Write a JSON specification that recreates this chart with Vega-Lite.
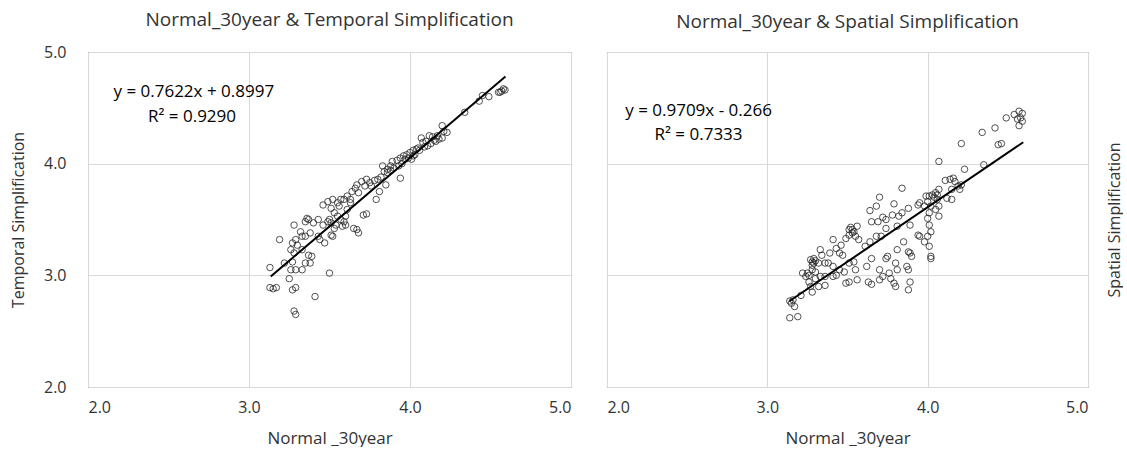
{
  "$schema": "https://vega.github.io/schema/vega-lite/v6.json",
  "background": "white",
  "padding": {"left": 10, "top": 10, "right": 0, "bottom": 0},
  "spacing": 34,
  "config": {
    "font": "Open Sans",
    "view": {"stroke": "#595959", "strokeWidth": 1},
    "axis": {"grid": true, "gridColor": "#d9d9d9", "ticks": false, "domain": false, "labelFontSize": 16, "labelColor": "#333333", "titleFontSize": 16, "titleFontWeight": "normal", "titleColor": "#333333", "format": ".1f"},
    "title": {"fontSize": 19, "fontWeight": "normal", "color": "#333333", "offset": 21, "frame": "group"}
  },
  "hconcat": [
    {
      "width": 483,
      "height": 335,
      "title": {"text": "Normal_30year & Temporal Simplification", "dy": 7},
      "layer": [
        {
          "data": {"values": [
            {"x":4.55,"y":4.64},{"x":4.57,"y":4.65},{"x":4.58,"y":4.67},{"x":4.59,"y":4.66},{"x":4.56,"y":4.64},{"x":4.49,"y":4.60},{"x":4.45,"y":4.61},{"x":4.43,"y":4.56},{"x":4.34,"y":4.46},{"x":4.20,"y":4.34},
            {"x":4.21,"y":4.29},{"x":4.23,"y":4.28},{"x":4.20,"y":4.23},{"x":4.15,"y":4.21},{"x":4.14,"y":4.24},{"x":4.12,"y":4.25},{"x":4.07,"y":4.23},{"x":4.10,"y":4.20},{"x":4.08,"y":4.19},{"x":4.00,"y":4.10},
            {"x":4.02,"y":4.12},{"x":4.03,"y":4.08},{"x":3.98,"y":4.08},{"x":4.01,"y":4.04},{"x":3.99,"y":4.05},{"x":4.04,"y":4.13},{"x":4.05,"y":4.14},{"x":4.02,"y":4.07},{"x":3.96,"y":4.07},{"x":3.94,"y":4.05},
            {"x":3.97,"y":4.04},{"x":3.94,"y":3.87},{"x":3.89,"y":4.02},{"x":3.88,"y":3.98},{"x":3.86,"y":3.95},{"x":3.83,"y":3.98},{"x":3.84,"y":3.93},{"x":3.85,"y":3.81},{"x":3.80,"y":3.86},{"x":3.79,"y":3.68},
            {"x":3.81,"y":3.75},{"x":3.75,"y":3.83},{"x":3.73,"y":3.86},{"x":3.72,"y":3.80},{"x":3.70,"y":3.84},{"x":3.67,"y":3.81},{"x":3.66,"y":3.78},{"x":3.68,"y":3.74},{"x":3.64,"y":3.75},{"x":3.63,"y":3.68},
            {"x":3.61,"y":3.71},{"x":3.59,"y":3.68},{"x":3.57,"y":3.68},{"x":3.55,"y":3.65},{"x":3.52,"y":3.68},{"x":3.49,"y":3.66},{"x":3.46,"y":3.63},{"x":3.51,"y":3.60},{"x":3.53,"y":3.56},{"x":3.55,"y":3.53},
            {"x":3.57,"y":3.50},{"x":3.59,"y":3.48},{"x":3.60,"y":3.45},{"x":3.58,"y":3.44},{"x":3.54,"y":3.45},{"x":3.51,"y":3.47},{"x":3.49,"y":3.48},{"x":3.46,"y":3.45},{"x":3.43,"y":3.50},{"x":3.40,"y":3.47},
            {"x":3.37,"y":3.50},{"x":3.36,"y":3.51},{"x":3.35,"y":3.48},{"x":3.32,"y":3.39},{"x":3.28,"y":3.45},{"x":3.33,"y":3.35},{"x":3.35,"y":3.35},{"x":3.29,"y":3.32},{"x":3.27,"y":3.29},{"x":3.26,"y":3.23},
            {"x":3.28,"y":3.20},{"x":3.30,"y":3.27},{"x":3.33,"y":3.23},{"x":3.37,"y":3.18},{"x":3.39,"y":3.17},{"x":3.38,"y":3.11},{"x":3.35,"y":3.11},{"x":3.33,"y":3.05},{"x":3.29,"y":3.05},{"x":3.27,"y":3.12},
            {"x":3.26,"y":3.05},{"x":3.25,"y":2.97},{"x":3.22,"y":3.11},{"x":3.19,"y":3.32},{"x":3.13,"y":3.07},{"x":3.13,"y":2.89},{"x":3.15,"y":2.88},{"x":3.17,"y":2.89},{"x":3.27,"y":2.87},{"x":3.29,"y":2.89},
            {"x":3.41,"y":2.81},{"x":3.50,"y":3.02},{"x":3.28,"y":2.68},{"x":3.29,"y":2.65},{"x":3.44,"y":3.32},{"x":3.47,"y":3.29},{"x":3.51,"y":3.36},{"x":3.52,"y":3.35},{"x":3.67,"y":3.41},{"x":3.68,"y":3.38},
            {"x":3.71,"y":3.54},{"x":3.73,"y":3.55},{"x":3.65,"y":3.42},{"x":3.63,"y":3.65},{"x":3.61,"y":3.59},{"x":3.60,"y":3.53},{"x":3.56,"y":3.62},{"x":3.50,"y":3.50},{"x":3.53,"y":3.42},{"x":3.43,"y":3.35},
            {"x":3.38,"y":3.38},{"x":4.06,"y":4.12},{"x":4.09,"y":4.15},{"x":4.11,"y":4.16},{"x":4.13,"y":4.18},{"x":4.16,"y":4.20},{"x":3.93,"y":3.98},{"x":3.95,"y":4.00},{"x":3.90,"y":3.96},{"x":3.92,"y":4.03},
            {"x":3.86,"y":3.92},{"x":3.88,"y":3.94},{"x":4.18,"y":4.22},{"x":4.17,"y":4.25},{"x":3.82,"y":3.88},{"x":3.78,"y":3.85},{"x":3.76,"y":3.80}
          ]},
          "mark": {"type": "point", "shape": "circle", "filled": false, "stroke": "#262626", "strokeWidth": 0.8, "size": 42, "opacity": 1},
          "encoding": {
            "x": {"field": "x", "type": "quantitative", "scale": {"domain": [2, 5], "nice": false, "zero": false}, "axis": {"values": [2, 3, 4, 5], "title": "Normal _30year", "labelPadding": 12, "titlePadding": 15, "titleFontSize": 17}},
            "y": {"field": "y", "type": "quantitative", "scale": {"domain": [2, 5], "nice": false, "zero": false}, "axis": {"values": [2, 3, 4, 5], "title": "Temporal Simplification", "labelPadding": 22, "titlePadding": 17}}
          }
        },
        {
          "data": {"values": [{"x": 3.135, "y": 2.99}, {"x": 4.593, "y": 4.78}]},
          "mark": {"type": "line", "color": "black", "strokeWidth": 2},
          "encoding": {
            "x": {"field": "x", "type": "quantitative"},
            "y": {"field": "y", "type": "quantitative"}
          }
        },
        {
          "data": {"values": [{"x": 2.657, "y": 4.64, "label": "y = 0.7622x + 0.8997"}, {"x": 2.646, "y": 4.414, "label": "R² = 0.9290"}]},
          "mark": {"type": "text", "fontSize": 17, "color": "black", "align": "center", "baseline": "middle"},
          "encoding": {
            "x": {"field": "x", "type": "quantitative"},
            "y": {"field": "y", "type": "quantitative"},
            "text": {"field": "label", "type": "nominal"}
          }
        }
      ]
    },
    {
      "width": 481,
      "height": 335,
      "title": {"text": "Normal_30year & Spatial Simplification", "dy": 1},
      "layer": [
        {
          "data": {"values": [
            {"x":4.57,"y":4.47},{"x":4.54,"y":4.44},{"x":4.59,"y":4.45},{"x":4.58,"y":4.41},{"x":4.56,"y":4.40},{"x":4.59,"y":4.38},{"x":4.57,"y":4.34},{"x":4.49,"y":4.41},{"x":4.42,"y":4.32},{"x":4.34,"y":4.28},
            {"x":4.21,"y":4.18},{"x":4.44,"y":4.17},{"x":4.46,"y":4.18},{"x":4.35,"y":3.99},{"x":4.07,"y":4.02},{"x":4.23,"y":3.95},{"x":4.16,"y":3.87},{"x":4.11,"y":3.85},{"x":4.14,"y":3.86},{"x":4.17,"y":3.84},
            {"x":4.19,"y":3.80},{"x":4.21,"y":3.81},{"x":4.15,"y":3.77},{"x":4.12,"y":3.69},{"x":4.15,"y":3.68},{"x":4.20,"y":3.77},{"x":4.07,"y":3.77},{"x":4.05,"y":3.74},{"x":4.03,"y":3.72},{"x":4.01,"y":3.71},
            {"x":3.99,"y":3.71},{"x":4.06,"y":3.68},{"x":4.07,"y":3.62},{"x":4.05,"y":3.59},{"x":4.07,"y":3.53},{"x":4.02,"y":3.62},{"x":4.01,"y":3.56},{"x":4.00,"y":3.51},{"x":4.01,"y":3.45},{"x":4.02,"y":3.39},
            {"x":4.00,"y":3.35},{"x":3.98,"y":3.30},{"x":3.95,"y":3.35},{"x":3.94,"y":3.36},{"x":4.01,"y":3.26},{"x":4.02,"y":3.17},{"x":4.02,"y":3.15},{"x":3.94,"y":3.63},{"x":3.95,"y":3.65},{"x":3.88,"y":3.60},
            {"x":3.89,"y":3.45},{"x":3.84,"y":3.78},{"x":3.79,"y":3.64},{"x":3.70,"y":3.70},{"x":3.68,"y":3.62},{"x":3.64,"y":3.58},{"x":3.65,"y":3.48},{"x":3.69,"y":3.48},{"x":3.72,"y":3.52},{"x":3.74,"y":3.50},
            {"x":3.78,"y":3.54},{"x":3.82,"y":3.53},{"x":3.84,"y":3.56},{"x":3.81,"y":3.44},{"x":3.74,"y":3.42},{"x":3.71,"y":3.35},{"x":3.68,"y":3.35},{"x":3.64,"y":3.30},{"x":3.61,"y":3.26},{"x":3.57,"y":3.32},
            {"x":3.55,"y":3.35},{"x":3.56,"y":3.44},{"x":3.53,"y":3.41},{"x":3.51,"y":3.41},{"x":3.51,"y":3.36},{"x":3.49,"y":3.33},{"x":3.46,"y":3.27},{"x":3.45,"y":3.20},{"x":3.43,"y":3.24},{"x":3.41,"y":3.32},
            {"x":3.39,"y":3.20},{"x":3.33,"y":3.23},{"x":3.34,"y":3.18},{"x":3.38,"y":3.11},{"x":3.36,"y":3.11},{"x":3.29,"y":3.11},{"x":3.28,"y":3.12},{"x":3.27,"y":3.14},{"x":3.32,"y":3.11},{"x":3.30,"y":3.03},
            {"x":3.28,"y":3.05},{"x":3.25,"y":3.02},{"x":3.22,"y":3.02},{"x":3.24,"y":2.99},{"x":3.26,"y":2.94},{"x":3.27,"y":2.90},{"x":3.28,"y":2.85},{"x":3.32,"y":2.90},{"x":3.36,"y":2.91},{"x":3.33,"y":2.99},
            {"x":3.36,"y":2.99},{"x":3.41,"y":2.99},{"x":3.43,"y":3.00},{"x":3.45,"y":3.05},{"x":3.48,"y":3.03},{"x":3.51,"y":3.11},{"x":3.54,"y":3.12},{"x":3.55,"y":3.05},{"x":3.56,"y":2.96},{"x":3.51,"y":2.94},
            {"x":3.49,"y":2.93},{"x":3.63,"y":2.94},{"x":3.65,"y":2.92},{"x":3.70,"y":2.96},{"x":3.76,"y":3.02},{"x":3.77,"y":2.97},{"x":3.79,"y":2.93},{"x":3.80,"y":2.90},{"x":3.81,"y":3.05},{"x":3.80,"y":3.11},
            {"x":3.75,"y":3.17},{"x":3.74,"y":3.15},{"x":3.81,"y":3.23},{"x":3.85,"y":3.30},{"x":3.88,"y":3.21},{"x":3.89,"y":3.20},{"x":3.90,"y":3.17},{"x":3.87,"y":3.08},{"x":3.88,"y":3.05},{"x":3.88,"y":2.87},
            {"x":3.89,"y":2.94},{"x":3.14,"y":2.77},{"x":3.15,"y":2.75},{"x":3.17,"y":2.72},{"x":3.14,"y":2.62},{"x":3.19,"y":2.63},{"x":3.21,"y":2.82},{"x":3.26,"y":3.00},{"x":3.30,"y":2.97},{"x":3.41,"y":3.08},
            {"x":3.47,"y":3.18},{"x":3.62,"y":3.08},{"x":3.65,"y":3.15},{"x":3.70,"y":3.05},{"x":3.72,"y":2.99},{"x":3.16,"y":2.78},
            {"x":3.28,"y":3.09},{"x":3.30,"y":3.13},{"x":3.29,"y":3.15},{"x":3.53,"y":3.38},{"x":3.52,"y":3.43},{"x":3.54,"y":3.39},{"x":4.04,"y":3.70},{"x":4.06,"y":3.72},{"x":4.00,"y":3.66},{"x":3.98,"y":3.62}
          ]},
          "mark": {"type": "point", "shape": "circle", "filled": false, "stroke": "#262626", "strokeWidth": 0.8, "size": 42, "opacity": 1},
          "encoding": {
            "x": {"field": "x", "type": "quantitative", "scale": {"domain": [2, 5], "nice": false, "zero": false}, "axis": {"values": [2, 3, 4, 5], "title": "Normal _30year", "labelPadding": 12, "titlePadding": 15, "titleFontSize": 17}},
            "y": {"field": "y", "type": "quantitative", "scale": {"domain": [2, 5], "nice": false, "zero": false}, "axis": {"orient": "right", "values": [2, 3, 4, 5], "labels": false, "title": "Spatial Simplification", "titleAngle": 270, "titlePadding": 34}}
          }
        },
        {
          "data": {"values": [{"x": 3.137, "y": 2.768}, {"x": 4.596, "y": 4.192}]},
          "mark": {"type": "line", "color": "black", "strokeWidth": 2},
          "encoding": {
            "x": {"field": "x", "type": "quantitative"},
            "y": {"field": "y", "type": "quantitative"}
          }
        },
        {
          "data": {"values": [{"x": 2.571, "y": 4.468, "label": "y = 0.9709x - 0.266"}, {"x": 2.571, "y": 4.261, "label": "R² = 0.7333"}]},
          "mark": {"type": "text", "fontSize": 17, "color": "black", "align": "center", "baseline": "middle"},
          "encoding": {
            "x": {"field": "x", "type": "quantitative"},
            "y": {"field": "y", "type": "quantitative"},
            "text": {"field": "label", "type": "nominal"}
          }
        }
      ]
    }
  ]
}
